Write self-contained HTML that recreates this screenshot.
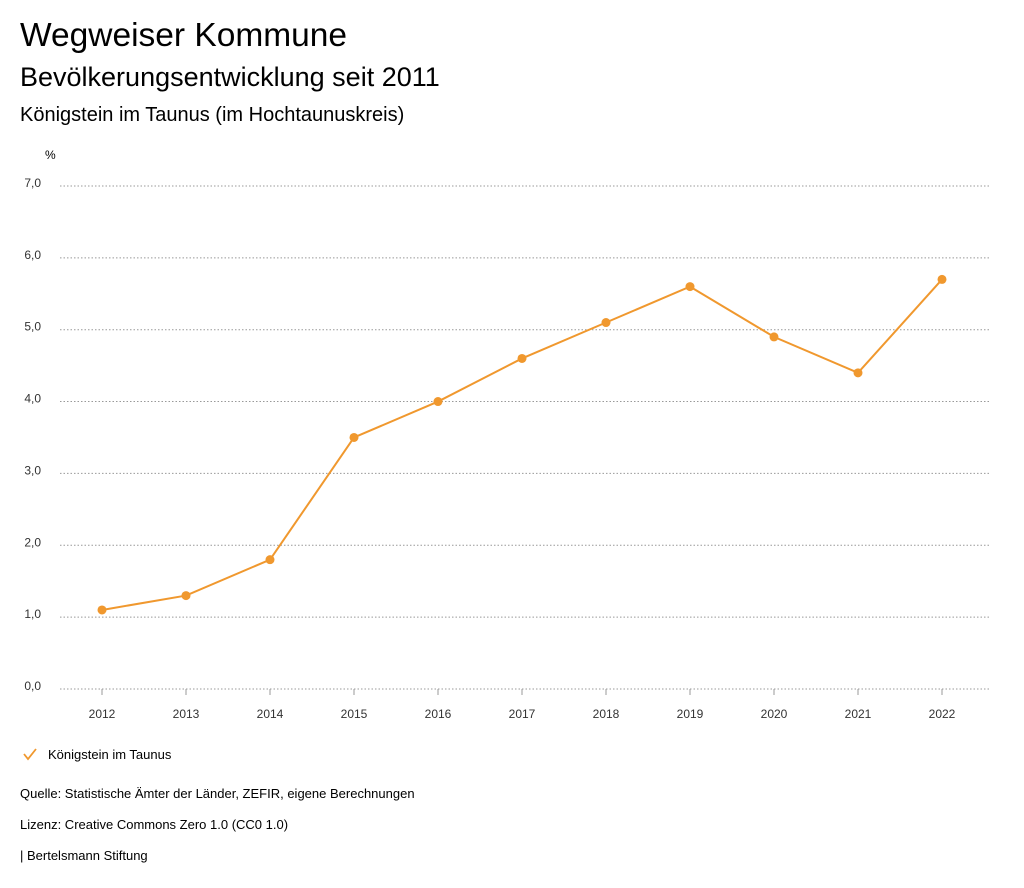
<!DOCTYPE html>
<html><head><meta charset="utf-8"><style>
body{margin:0;background:#fff;font-family:"Liberation Sans",sans-serif;color:#000}
.t{position:absolute;left:20px;white-space:nowrap}
</style></head><body>
<div style="position:relative;width:1024px;height:888px">
<div class="t" style="top:17px;font-size:33.5px">Wegweiser Kommune</div>
<div class="t" style="top:62px;font-size:27px">Bevölkerungsentwicklung seit 2011</div>
<div class="t" style="top:104px;font-size:20px">Königstein im Taunus (im Hochtaunuskreis)</div>
<svg id="c" width="1024" height="888" style="position:absolute;left:0;top:0" font-family="Liberation Sans, sans-serif" font-size="12"></svg>
<div class="t" style="top:786px;font-size:13px">Quelle: Statistische Ämter der Länder, ZEFIR, eigene Berechnungen</div>
<div class="t" style="top:817px;font-size:13px">Lizenz: Creative Commons Zero 1.0 (CC0 1.0)</div>
<div class="t" style="top:848px;font-size:13px">| Bertelsmann Stiftung</div>
</div>
<script>
const years=["2012","2013","2014","2015","2016","2017","2018","2019","2020","2021","2022"];
const values=[1.1,1.3,1.8,3.5,4.0,4.6,5.1,5.6,4.9,4.4,5.7];
const yTicks=[0,1,2,3,4,5,6,7];
const yTickLabels=["0,0","1,0","2,0","3,0","4,0","5,0","6,0","7,0"];
const svg=document.getElementById('c');const NS='http://www.w3.org/2000/svg';
const X=i=>102+i*84, Y=v=>689-v*71.86;
function mk(t,a){const e=document.createElementNS(NS,t);for(const k in a)e.setAttribute(k,a[k]);svg.appendChild(e);return e;}
let u=mk('text',{x:45,y:159,'font-size':12});u.textContent='%';


yTicks.forEach((v,i)=>{
 const l=mk('line',{x1:60,x2:990,y1:Y(v),y2:Y(v),stroke:'#999','stroke-dasharray':'1.5,2'});
 
 
 const t=mk('text',{x:41,y:Y(v)+1,'text-anchor':'end',fill:'#333'});t.textContent=yTickLabels[i];
 
 
});
years.forEach((y,i)=>{
 const tk=mk('line',{x1:X(i),x2:X(i),y1:689,y2:695,stroke:'#999'});
 
 
 const t=mk('text',{x:X(i),y:718,'text-anchor':'middle',fill:'#333'});t.textContent=y;
 
 
});
const p=mk('polyline',{points:values.map((v,i)=>X(i)+','+Y(v)).join(' '),fill:'none',stroke:'#f0982e','stroke-width':2});


values.forEach((v,i)=>{
 const c=mk('circle',{cx:X(i),cy:Y(v),r:4.5,fill:'#f0982e'});
 
 
});
const ck=mk('polyline',{points:'24,754 28,759 36,749',fill:'none',stroke:'#f0982e','stroke-width':1.8});


const lt=mk('text',{x:48,y:759,'font-size':13});lt.textContent='Königstein im Taunus';


</script>
</body></html>
